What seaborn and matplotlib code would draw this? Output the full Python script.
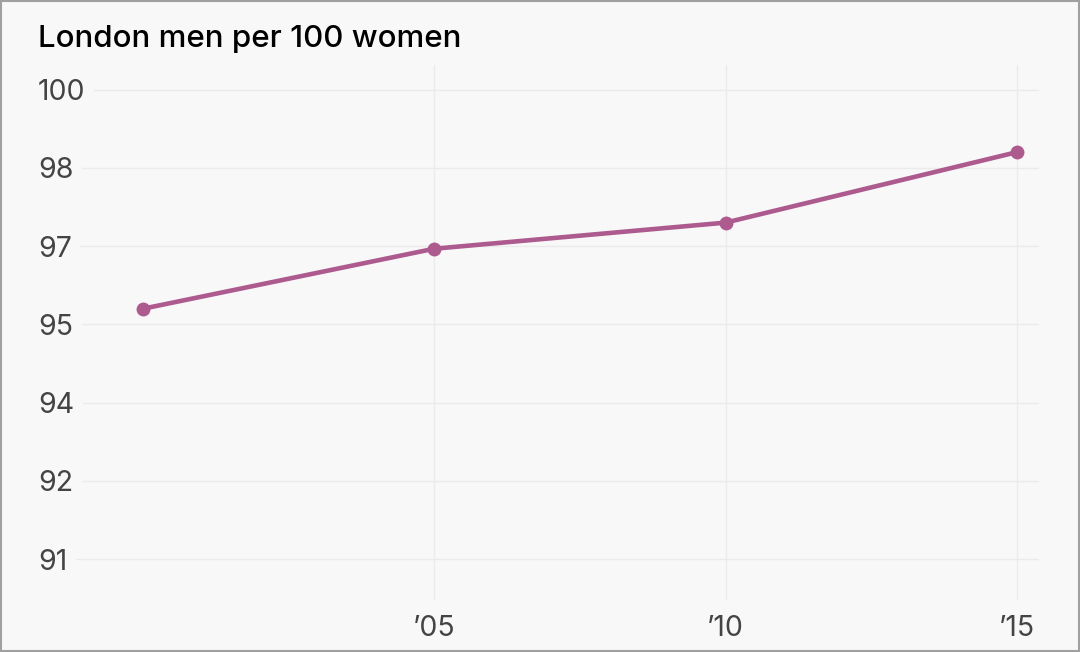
import matplotlib
matplotlib.use("Agg")
import matplotlib.pyplot as plt
from matplotlib.patches import Rectangle
import pandas as pd
import seaborn as sns

# data
years = [2000, 2005, 2010, 2015]
men_per_100_women = [95.8, 96.95, 97.45, 98.8]

y_ticks = [91, 92.5, 94, 95.5, 97, 98.5, 100]
y_tick_labels = ["91", "92", "94", "95", "97", "98", "100"]
x_ticks = [2005, 2010, 2015]
x_tick_labels = ["\u201905", "\u201910", "\u201915"]

title = "London men per 100 women"

bg = "#f8f8f8"
line_color = "#ad5a8f"
grid_color = "#ebebeb"

sns.set_theme(style="whitegrid")
plt.rcParams["font.family"] = ["Inter", "DejaVu Sans"]

df = pd.DataFrame({"year": years, "ratio": men_per_100_women})

fig = plt.figure(figsize=(10.8, 6.52), dpi=100, facecolor=bg)
W, H = 1080, 652
ax = fig.add_axes([38 / W, 1 - 600 / H, (1039 - 38) / W, (600 - 65) / H])
ax.set_facecolor(bg)

sns.lineplot(data=df, x="year", y="ratio", ax=ax, color=line_color,
             linewidth=3.3, marker="o", markersize=10,
             markeredgewidth=0, zorder=3)

ax.set_xlim(1998.2, 2015.38)
ax.set_ylim(90.22, 100.47)

ax.set_xticks(x_ticks)
ax.set_xticklabels(x_tick_labels)
ax.set_yticks(y_ticks)
ax.set_yticklabels(y_tick_labels)

ax.grid(True, color=grid_color, linewidth=1.0)
ax.set_axisbelow(True)
for s in ax.spines.values():
    s.set_visible(False)

ax.tick_params(axis="x", length=0, pad=11, labelsize=20.5, labelcolor="#444444")
ax.tick_params(axis="y", length=0, pad=0, labelsize=20.5, labelcolor="#444444")
for lab in ax.get_yticklabels():
    lab.set_horizontalalignment("left")
    lab.set_bbox(dict(facecolor=bg, edgecolor="none", boxstyle="square,pad=0.3"))

ax.set_xlabel("")
ax.set_ylabel("")

fig.text(38 / W, 1 - 47 / H, title, fontsize=22.5, color="#000000",
         fontweight="medium", ha="left", va="baseline")

# outer frame
fig.patches.append(Rectangle((0.001, 0.0015), 0.998, 0.997, transform=fig.transFigure,
                             fill=False, edgecolor="#a0a0a0", linewidth=1.5))

fig.savefig("out.png", dpi=100, facecolor=bg)
plt.close(fig)
